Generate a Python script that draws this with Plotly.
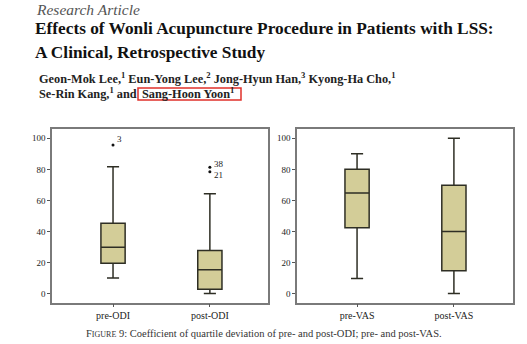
import plotly.graph_objects as go

# Data
odi_cats = ["pre-ODI", "post-ODI"]
odi_low = [10, 0]
odi_q1 = [19.5, 2.8]
odi_med = [29.8, 15.3]
odi_q3 = [45.3, 27.7]
odi_high = [81.7, 64.2]
odi_out_cat = ["pre-ODI", "post-ODI", "post-ODI"]
odi_out_val = [95.7, 81.3, 78.5]
odi_out_lab = ["3", "38", "21"]

vas_cats = ["pre-VAS", "post-VAS"]
vas_low = [9.7, 0]
vas_q1 = [42.3, 14.6]
vas_med = [64.8, 40]
vas_q3 = [80, 69.8]
vas_high = [90, 100]

y_ticks = [0, 20, 40, 60, 80, 100]

FILL = "#d3cd98"
LINE = "#2e2e24"
SERIF = "Liberation Serif"

fig = go.Figure()

fig.add_trace(go.Box(
    x=odi_cats, q1=odi_q1, median=odi_med, q3=odi_q3,
    lowerfence=odi_low, upperfence=odi_high,
    fillcolor=FILL, line=dict(color=LINE, width=1.5),
    width=0.25, whiskerwidth=0.5, boxpoints=False,
    xaxis="x", yaxis="y", showlegend=False, hoverinfo="skip"))

fig.add_trace(go.Box(
    x=vas_cats, q1=vas_q1, median=vas_med, q3=vas_q3,
    lowerfence=vas_low, upperfence=vas_high,
    fillcolor=FILL, line=dict(color=LINE, width=1.5),
    width=0.25, whiskerwidth=0.5, boxpoints=False,
    xaxis="x2", yaxis="y2", showlegend=False, hoverinfo="skip"))

# outlier points
fig.add_trace(go.Scatter(
    x=odi_out_cat, y=odi_out_val, mode="markers",
    marker=dict(size=3, color="#111"),
    xaxis="x", yaxis="y", showlegend=False, hoverinfo="skip",
    cliponaxis=False))

# outlier case labels
label_yshift = [6, 3, -3]
for c, v, lab, ys in zip(odi_out_cat, odi_out_val, odi_out_lab, label_yshift):
    fig.add_annotation(x=c, y=v, xref="x", yref="y", text=lab, showarrow=False,
                       xanchor="left", yanchor="middle", xshift=2, yshift=ys,
                       font=dict(family=SERIF, size=9, color="#222"))

axis_common = dict(
    showgrid=False, zeroline=False, showline=True, mirror=True,
    linecolor="#7a7a7a", linewidth=1.5,
    ticks="outside", ticklen=3, tickcolor="#555", tickwidth=1,
    tickfont=dict(family=SERIF, size=10, color="#222"))

yaxis_common = dict(axis_common)
yaxis_common.update(range=[-5.8, 106], tickvals=y_ticks,
                    tickfont=dict(family=SERIF, size=9, color="#222"))

fig.update_layout(
    width=527, height=344,
    margin=dict(l=0, r=0, t=0, b=0),
    paper_bgcolor="white", plot_bgcolor="white",
    xaxis=dict(axis_common, domain=[0.0987, 0.5085], range=[-0.63, 1.6],
               type="category", categoryorder="array", categoryarray=odi_cats),
    yaxis=dict(yaxis_common, domain=[0.1206, 0.625], anchor="x"),
    xaxis2=dict(axis_common, domain=[0.5636, 0.9734], range=[-0.62, 1.61],
                type="category", categoryorder="array", categoryarray=vas_cats,
                anchor="y2"),
    yaxis2=dict(yaxis_common, domain=[0.1206, 0.625], anchor="x2"),
)

def px(x, y):
    return x / 527.0, 1 - y / 344.0

def ann(text, x, y, size, color="#111", xanchor="left", yanchor="middle"):
    ax, ay = px(x, y)
    fig.add_annotation(text=text, x=ax, y=ay, xref="paper", yref="paper",
                       xanchor=xanchor, yanchor=yanchor, showarrow=False,
                       font=dict(family=SERIF, size=size, color=color))

ann("<i>Research Article</i>", 34, 9, 15.5, color="#555")
ann("<b>Effects of Wonli Acupuncture Procedure in Patients with LSS:</b>", 33, 28, 17.3)
ann("<b>A Clinical, Retrospective Study</b>", 33, 52, 17.3)
ann("<b>Geon-Mok Lee,<sup>1</sup> Eun-Yong Lee,<sup>2</sup> Jong-Hyun Han,<sup>3</sup> Kyong-Ha Cho,<sup>1</sup></b>",
    37, 78.5, 12.3, color="#222")
ann("<b>Se-Rin Kang,<sup>1</sup> and</b>", 37, 93.5, 12.3, color="#222")
ann("<b>Sang-Hoon Yoon<sup>1</sup></b>", 140, 93.5, 12.3, color="#222")

x0, y1 = px(138, 88)
x1, y0 = px(241, 100)
fig.add_shape(type="rect", xref="paper", yref="paper", x0=x0, x1=x1, y0=y0, y1=y1,
              line=dict(color="#e0302a", width=1.5))

ann("F<span style='font-size:8px'>IGURE</span> 9: Coefficient of quartile deviation of pre- and post-ODI; pre- and post-VAS.",
    264, 333, 10.5, color="#333", xanchor="center")

fig.write_html("out.html")
